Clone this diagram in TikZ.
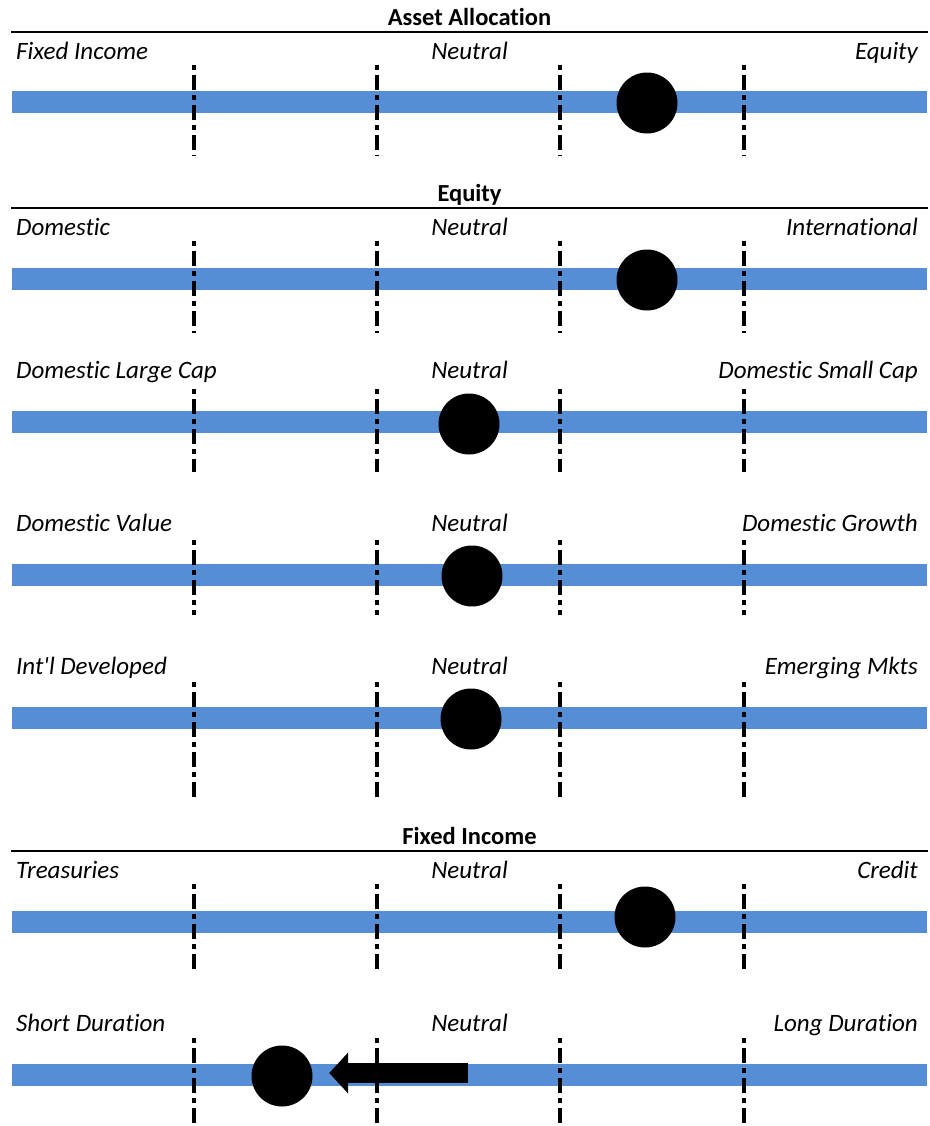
\documentclass[tikz,border=0pt]{standalone}
\usepackage{fontspec}
\setmainfont{Carlito}[Ligatures={NoCommon}]
\usetikzlibrary{arrows.meta}
\definecolor{barblue}{RGB}{85,142,213}
\tikzset{
  lbl/.style={font=\fontsize{25bp}{29bp}\selectfont\itshape, inner sep=0pt},
  heading/.style={font=\fontsize{24.5bp}{29bp}\selectfont\bfseries, inner sep=0pt, anchor=base},
  marker/.style={shape=circle, fill=black, draw=none, inner sep=0pt, minimum size=61bp},
  tickmark/.style={line width=4bp, dash pattern=on 5bp off 5bp on 15bp off 5bp}
}
\newcommand{\scalebar}[1]{ \fill[barblue] ( 12 , #1-11 ) rectangle ( 927 , #1+11 );}
\newcommand{\tickset}[2]{ \foreach \tx in {193.5,377,560,743.5} \draw[tickmark] ( \tx , #1 ) -- ( \tx , #2 );}
\newcommand{\headrule}[3]{\node[heading] (#1) at ( 469.5 , #2-7 ) {#3}; \draw[line width=2bp] ( 11 , #2 ) -- ( 928 , #2 );}
\newcommand{\rowlabels}[4]{\node[lbl, anchor=base west] (#1left) at ( 16 , #2 ) {#3};
\node[lbl, anchor=base] (#1mid) at ( 469.5 , #2 ) {Neutral};
\node[lbl, anchor=base east] (#1right) at ( 918 , #2 ) {#4};}

\begin{document}
\begin{tikzpicture}[x=1bp,y=-1bp]
\useasboundingbox (0,0) rectangle (930,1126);
% asset allocation
\headrule{assethead}{32}{Asset Allocation}
\rowlabels{alloc}{59}{Fixed Income}{Equity}
\scalebar{102}
\tickset{65}{156}
\node[marker] (allocdot) at (647,103) {};
% equity
\headrule{equityhead}{208}{Equity}
\rowlabels{region}{235}{Domestic}{International}
\scalebar{279}
\tickset{241}{333}
\node[marker] (regiondot) at (647,280) {};
% row 3
\rowlabels{size}{378}{Domestic Large Cap}{Domestic Small Cap}
\scalebar{422}
\tickset{389}{472}
\node[marker] (sizedot) at (469,424) {};
% row 4
\rowlabels{style}{531}{Domestic Value}{Domestic Growth}
\scalebar{575}
\tickset{540}{615}
\node[marker] (styledot) at (472,576) {};
% row 5
\rowlabels{intl}{674}{Int\textquotesingle l Developed}{Emerging Mkts}
\scalebar{718}
\tickset{682}{799}
\node[marker] (intldot) at (471,719) {};
% fixed income
\headrule{fixedhead}{851}{Fixed Income}
\rowlabels{sector}{878}{Treasuries}{Credit}
\scalebar{922}
\tickset{884}{972}
\node[marker] (sectordot) at (645,917) {};
% row 7
\rowlabels{dur}{1031}{Short Duration}{Long Duration}
\scalebar{1074.5}
\tickset{1038}{1126}
\node[marker] (durdot) at (282,1076) {};
\coordinate (durfrom) at (468,1073);
\draw[line width=20bp, -{Triangle[length=19bp,width=40bp]}] (durfrom) -- ([xshift=16.5bp]durdot.east |- durfrom);
\end{tikzpicture}
\end{document}
